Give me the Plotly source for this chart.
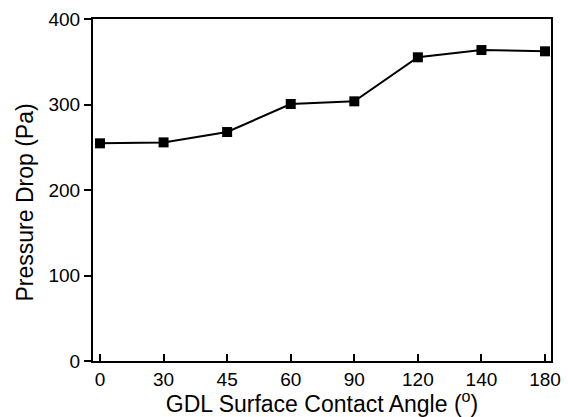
import plotly.graph_objects as go

angles = ["0", "30", "45", "60", "90", "120", "140", "180"]
pressure_drop = [254.6, 255.7, 267.8, 300.6, 303.7, 355.2, 363.7, 362.2]
y_ticks = [0, 100, 200, 300, 400]

fig = go.Figure()
fig.add_trace(go.Scatter(
    x=angles, y=pressure_drop, mode="lines+markers",
    line=dict(color="black", width=2),
    marker=dict(symbol="square", size=10, color="black"),
    showlegend=False,
))

font = "Liberation Sans, Arial, sans-serif"
fig.update_layout(
    width=568, height=417,
    margin=dict(l=93, r=17, t=19, b=56),
    paper_bgcolor="white", plot_bgcolor="white",
    font=dict(family=font, color="black", size=19),
)
fig.update_xaxes(
    type="category", range=[-0.11, 7.094], automargin=False,
    showline=True, linecolor="black", linewidth=2, mirror=True,
    ticks="inside", ticklen=7, tickwidth=2, tickcolor="black",
    showgrid=False, zeroline=False,
    tickfont=dict(size=19),
    title=dict(text="GDL Surface Contact Angle (<sup>o</sup>)", font=dict(size=23), standoff=5),
)
fig.update_yaxes(
    range=[0, 400], tickvals=y_ticks, automargin=False,
    showline=True, linecolor="black", linewidth=2, mirror=True,
    ticks="outside", ticklen=7, tickwidth=2, tickcolor="black",
    showgrid=False, zeroline=False,
    tickfont=dict(size=19),
)
fig.add_annotation(
    text="Pressure Drop (Pa)", textangle=-90,
    xref="paper", yref="paper", x=-0.1485, y=0.4635,
    xanchor="center", yanchor="middle", showarrow=False,
    font=dict(size=23),
)
fig.write_html("out.html", config={"displayModeBar": False},
               post_script="document.body.style.margin='0';document.body.style.overflow='hidden';")
